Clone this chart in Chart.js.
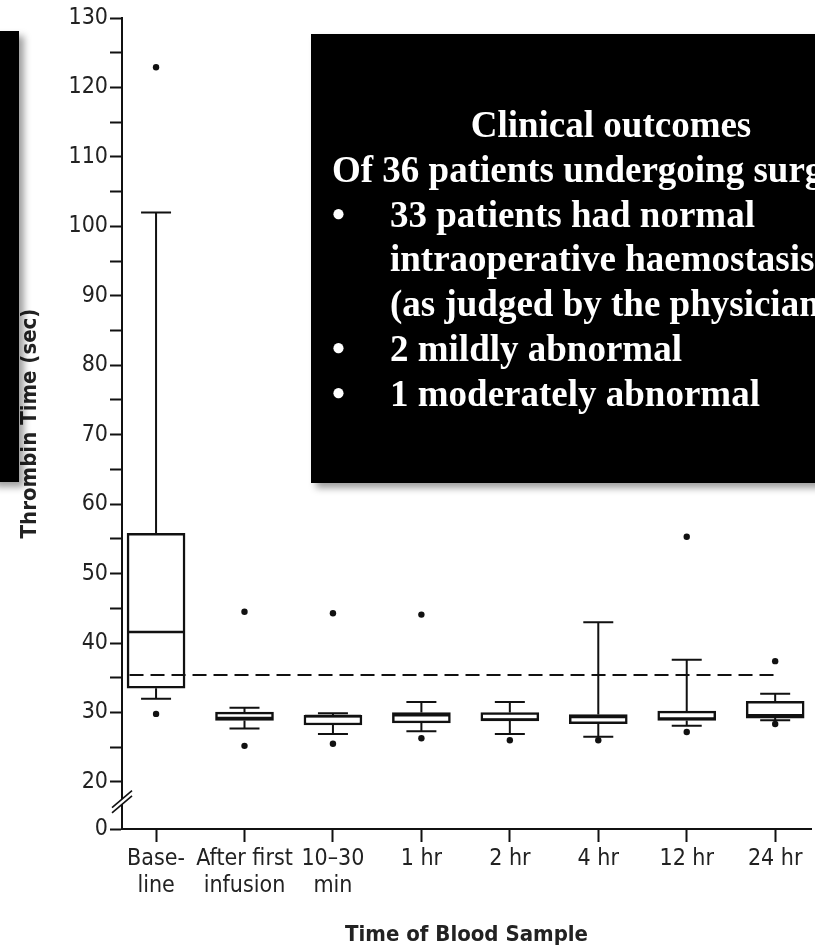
<!DOCTYPE html>
<html>
<head>
<meta charset="utf-8">
<script src="https://cdn.jsdelivr.net/npm/chart.js@4.4.1/dist/chart.umd.min.js"></script>
<style>
  html, body { margin: 0; padding: 0; background: #fff; overflow: hidden; }
  #wrap { position: relative; width: 815px; height: 948px; overflow: hidden; }
  #chart { position: absolute; left: 0; top: 0; }
  .panel { position: absolute; background: #000; box-shadow: 5px 5px 7px rgba(0,0,0,0.38); }
  #sidePanel { left: -10px; top: 31px; width: 29px; height: 451px; }
  #notePanel { left: 311px; top: 34px; width: 600px; height: 449px; color: #fff;
    font-family: "Liberation Serif", "Times New Roman", serif; font-weight: bold;
    font-size: 37px; line-height: 44.8px; white-space: nowrap; box-sizing: border-box; padding-top: 69px; }
  #notePanel .head { text-align: center; }
  #notePanel .lead { padding-left: 21px; }
  #notePanel .item { position: relative; padding-left: 79px; }
  #notePanel .item .dot { position: absolute; left: 21px; top: 0; }
</style>
</head>
<body>
<div id="wrap">
  <canvas id="chart" width="815" height="948"></canvas>
  <div class="panel" id="sidePanel"></div>
  <div class="panel" id="notePanel">
    <div class="head">Clinical outcomes</div>
    <div class="lead">Of 36 patients undergoing surgery:</div>
    <div class="item"><span class="dot">•</span>33 patients had normal<br>intraoperative haemostasis<br>(as judged by the physician)</div>
    <div class="item"><span class="dot">•</span>2 mildly abnormal</div>
    <div class="item"><span class="dot">•</span>1 moderately abnormal</div>
  </div>
</div>
<script>
// Thrombin time (sec) by time of blood sample: box plots
const categories = [["Base-", "line"], ["After first", "infusion"], ["10–30", "min"], "1 hr", "2 hr", "4 hr", "12 hr", "24 hr"];
const whiskerLow  = [32.0, 27.7, 26.9, 27.3, 26.9, 26.5, 28.1, 28.9];
const quartile1   = [33.5, 28.85, 28.2, 28.5, 28.8, 28.4, 28.85, 29.2];
const medians     = [41.6, 29.2, 29.5, 29.6, 29.0, 29.35, 29.15, 29.6];
const quartile3   = [55.8, 30.05, 29.6, 30.0, 30.0, 29.7, 30.2, 31.6];
const whiskerHigh = [102.0, 30.7, 29.9, 31.5, 31.5, 43.0, 37.6, 32.7];
const outliers    = [[29.8, 122.9], [25.2, 44.5], [25.5, 44.3], [26.3, 44.1], [26.0], [26.0], [27.2, 55.3], [28.35, 37.4]];
const upperLimitNormal = 35.4;

// Broken y axis: "0" sits just below the break, the scale proper runs 20..130
const yMajorTicks = [20, 30, 40, 50, 60, 70, 80, 90, 100, 110, 120, 130];
const yMinorTicks = [25, 35, 45, 55, 65, 75, 85, 95, 105, 115, 125];
const yBreakFloor = 13.23;   // where the "0" tick is placed below the break
const yZeroLabel = "0";

const fontFamily = "'DejaVu Sans Condensed', 'DejaVu Sans', sans-serif";
const tickFont = { family: fontFamily, size: 23 };
const titleFont = { family: fontFamily, size: 22, weight: 'bold' };
const ink = '#111';

const boxData = categories.map((_, i) => ({ x: i, y: [quartile1[i], quartile3[i]] }));
const outlierData = [];
outliers.forEach((vals, i) => vals.forEach(v => outlierData.push({ x: i, y: v })));
const boxHalfUnits = 0.3;
const refLineData = [
  { x: -boxHalfUnits, y: upperLimitNormal },
  { x: categories.length - 1 + 0.03, y: upperLimitNormal }
];

const boxPlotParts = {
  id: 'boxPlotParts',
  beforeDatasetsDraw(chart) {
    const { ctx, scales: { x, y } } = chart;
    const capHalf = 15;
    ctx.save();
    ctx.strokeStyle = ink;
    ctx.lineWidth = 2;
    categories.forEach((_, i) => {
      const px = x.getPixelForValue(i);
      const segs = [[quartile3[i], whiskerHigh[i]], [quartile1[i], whiskerLow[i]]];
      segs.forEach(([from, to]) => {
        const y0 = y.getPixelForValue(from), y1 = y.getPixelForValue(to);
        ctx.beginPath();
        ctx.moveTo(px, y0); ctx.lineTo(px, y1);
        ctx.moveTo(px - capHalf, y1); ctx.lineTo(px + capHalf, y1);
        ctx.stroke();
      });
    });
    ctx.restore();
  },
  afterDatasetsDraw(chart) {
    const { ctx, scales: { x, y } } = chart;
    const half = 28;
    ctx.save();
    ctx.strokeStyle = ink;
    ctx.lineWidth = 2.5;
    categories.forEach((_, i) => {
      const px = x.getPixelForValue(i);
      const py = y.getPixelForValue(medians[i]);
      ctx.beginPath();
      ctx.moveTo(px - half, py); ctx.lineTo(px + half, py);
      ctx.stroke();
    });
    ctx.restore();
  },
  afterDraw(chart) {
    // axis break mark between "0" and 20
    const { ctx, chartArea, scales: { y } } = chart;
    const p20 = y.getPixelForValue(yMajorTicks[0]);
    const p0 = y.getPixelForValue(yBreakFloor);
    const yc = p20 + (p0 - p20) * 0.42;
    const xc = chartArea.left;
    const dx = 10, dy = 8.5, g = 2.6;
    ctx.save();
    ctx.fillStyle = '#fff';
    ctx.beginPath();
    ctx.moveTo(xc - dx, yc + dy - g);
    ctx.lineTo(xc + dx, yc - dy - g);
    ctx.lineTo(xc + dx, yc - dy + g);
    ctx.lineTo(xc - dx, yc + dy + g);
    ctx.closePath();
    ctx.fill();
    ctx.strokeStyle = ink;
    ctx.lineWidth = 1.6;
    [-g, g].forEach(o => {
      ctx.beginPath();
      ctx.moveTo(xc - dx, yc + dy + o);
      ctx.lineTo(xc + dx, yc - dy + o);
      ctx.stroke();
    });
    ctx.restore();
  }
};

new Chart(document.getElementById('chart'), {
  type: 'bar',
  data: {
    datasets: [
      {
        type: 'line',
        data: refLineData,
        borderColor: ink,
        borderWidth: 2,
        borderDash: [14, 7],
        pointRadius: 0,
        fill: false
      },
      {
        type: 'scatter',
        data: outlierData,
        pointRadius: 3.2,
        pointBackgroundColor: ink,
        pointBorderColor: ink,
        pointBorderWidth: 0
      },
      {
        type: 'bar',
        data: boxData,
        backgroundColor: '#fff',
        borderColor: ink,
        borderWidth: 2.5,
        borderSkipped: false,
        barThickness: 58
      }
    ]
  },
  options: {
    responsive: false,
    animation: false,
    devicePixelRatio: 1,
    layout: { padding: { top: 18, right: 3, bottom: 0, left: 0 } },
    plugins: { legend: { display: false }, tooltip: { enabled: false } },
    scales: {
      x: {
        type: 'linear',
        offset: false,
        min: -0.385,
        max: categories.length - 1 + 0.405,
        afterBuildTicks(scale) { scale.ticks = categories.map((_, i) => ({ value: i })); },
        afterFit(scale) { scale.height = 119; },
        ticks: {
          autoSkip: false, maxRotation: 0, padding: 3,
          color: '#222', font: tickFont,
          callback: (v) => categories[v]
        },
        grid: { offset: false, drawOnChartArea: false, drawTicks: true, tickLength: 13, tickWidth: 2, tickColor: ink },
        border: { display: true, color: ink, width: 2 },
        title: { display: true, text: 'Time of Blood Sample', color: '#222', font: titleFont, padding: { top: 0, bottom: 0 } }
      },
      y: {
        type: 'linear',
        min: yBreakFloor,
        max: yMajorTicks[yMajorTicks.length - 1],
        afterBuildTicks(scale) {
          const vals = [yBreakFloor, ...yMajorTicks, ...yMinorTicks].sort((a, b) => a - b);
          scale.ticks = vals.map(v => ({ value: v }));
        },
        afterFit(scale) { scale.width = 122; },
        ticks: {
          autoSkip: false, padding: 2,
          color: '#222', font: tickFont,
          callback: (v) => v === yBreakFloor ? yZeroLabel : (yMajorTicks.includes(v) ? String(v) : '')
        },
        grid: { drawOnChartArea: false, drawTicks: true, tickLength: 12, tickWidth: 2, tickColor: ink },
        border: { display: true, color: ink, width: 2 },
        title: { display: true, text: 'Thrombin Time (sec)', color: '#222',
          font: { family: fontFamily, size: 22, weight: 'bold' }, padding: { top: 17, bottom: 0 } }
      }
    }
  },
  plugins: [boxPlotParts]
});
</script>
</body>
</html>
